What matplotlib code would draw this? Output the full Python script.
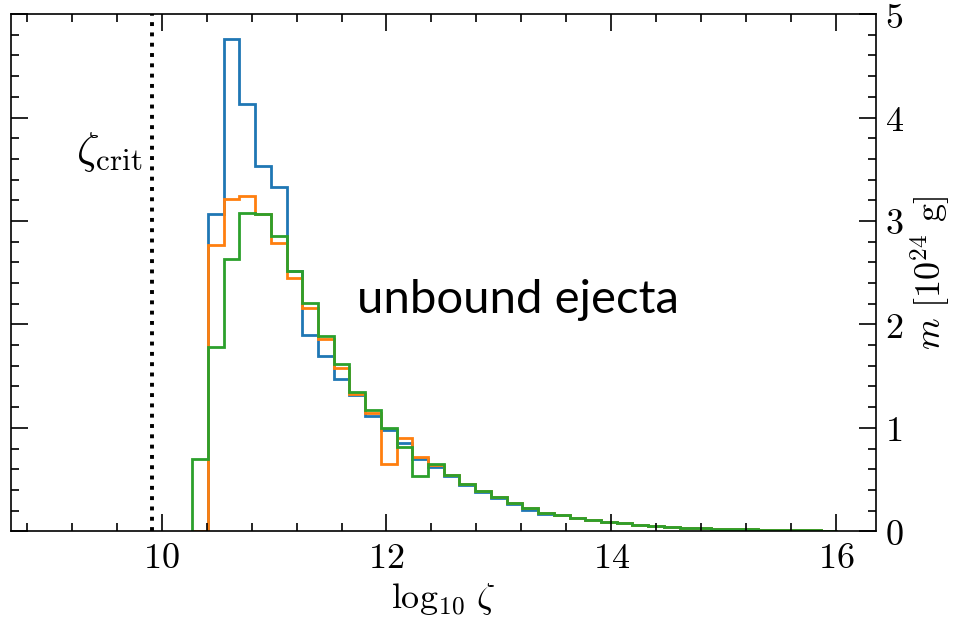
import numpy as np
import matplotlib
matplotlib.use("Agg")
import matplotlib.pyplot as plt
from matplotlib.ticker import MultipleLocator, FuncFormatter

plt.rcParams['mathtext.fontset'] = 'cm'
plt.rcParams['font.family'] = ['DejaVu Serif']

# bins in log10 zeta
bins = np.linspace(10.27, 16.01, 42)

tail = [0.16, 0.13, 0.11, 0.09, 0.075, 0.06, 0.05, 0.042, 0.035, 0.03,
        0.025, 0.02, 0.017, 0.014, 0.012, 0.01, 0.008, 0.007]

m_blue = [0.0, 3.07, 4.76, 4.13, 3.53, 3.33, 2.52, 1.90, 1.69, 1.47, 1.32,
          1.11, 0.98, 0.85, 0.70, 0.62, 0.53, 0.45, 0.38, 0.32, 0.26, 0.21,
          0.17] + tail
m_orange = [0.0, 2.77, 3.21, 3.24, 3.07, 2.79, 2.45, 2.16, 1.86, 1.58, 1.33,
            1.14, 0.65, 0.90, 0.72, 0.64, 0.54, 0.46, 0.39, 0.33, 0.27, 0.22,
            0.18] + tail
m_green = [0.70, 1.78, 2.63, 3.08, 3.07, 2.85, 2.52, 2.21, 1.89, 1.62, 1.35,
           1.17, 1.00, 0.81, 0.53, 0.65, 0.54, 0.46, 0.39, 0.33, 0.27, 0.22,
           0.18] + tail

zeta_crit = 9.91

fig = plt.figure(figsize=(9.54, 6.25), dpi=100)
ax = fig.add_axes([0.0115, 0.150, 0.9065, 0.8275])

ax.stairs(m_blue, bins, color='#1f77b4', lw=2.0)
ax.stairs(m_orange, bins, color='#ff7f0e', lw=2.0)
ax.stairs(m_green, bins, color='#2ca02c', lw=2.0)

ax.axvline(zeta_crit, color='black', ls=':', lw=2.8)
ax.text(zeta_crit - 0.08, 3.56, r'$\zeta_{\rm crit}$', fontsize=32,
        ha='right', va='baseline')
ax.text(11.74, 2.11, 'unbound ejecta', fontsize=34, family='Lato',
        ha='left', va='baseline')

ax.set_xlim(8.657, 16.356)
ax.set_ylim(0, 5)

ax.xaxis.set_major_locator(MultipleLocator(2))
ax.xaxis.set_minor_locator(MultipleLocator(0.4))
ax.yaxis.set_major_locator(MultipleLocator(1))
ax.yaxis.set_minor_locator(MultipleLocator(0.2))
fmt = FuncFormatter(lambda v, p: r'$%g$' % v)
ax.xaxis.set_major_formatter(fmt)
ax.yaxis.set_major_formatter(fmt)

ax.tick_params(which='both', direction='in', top=True, right=True,
               left=True, bottom=True, labelleft=False, labelright=True,
               width=1.2)
ax.tick_params(which='major', length=12, labelsize=26, pad=7)
ax.tick_params(which='minor', length=6)
for s in ax.spines.values():
    s.set_linewidth(1.2)

ax.set_xlabel(r'$\log_{10}\,\zeta$', fontsize=26, labelpad=4)
ax.yaxis.set_label_position('right')
ax.set_ylabel(r'$m\ [10^{24}\ \mathrm{g}]$', fontsize=26, labelpad=3)

fig.savefig('out.png', dpi=100)
